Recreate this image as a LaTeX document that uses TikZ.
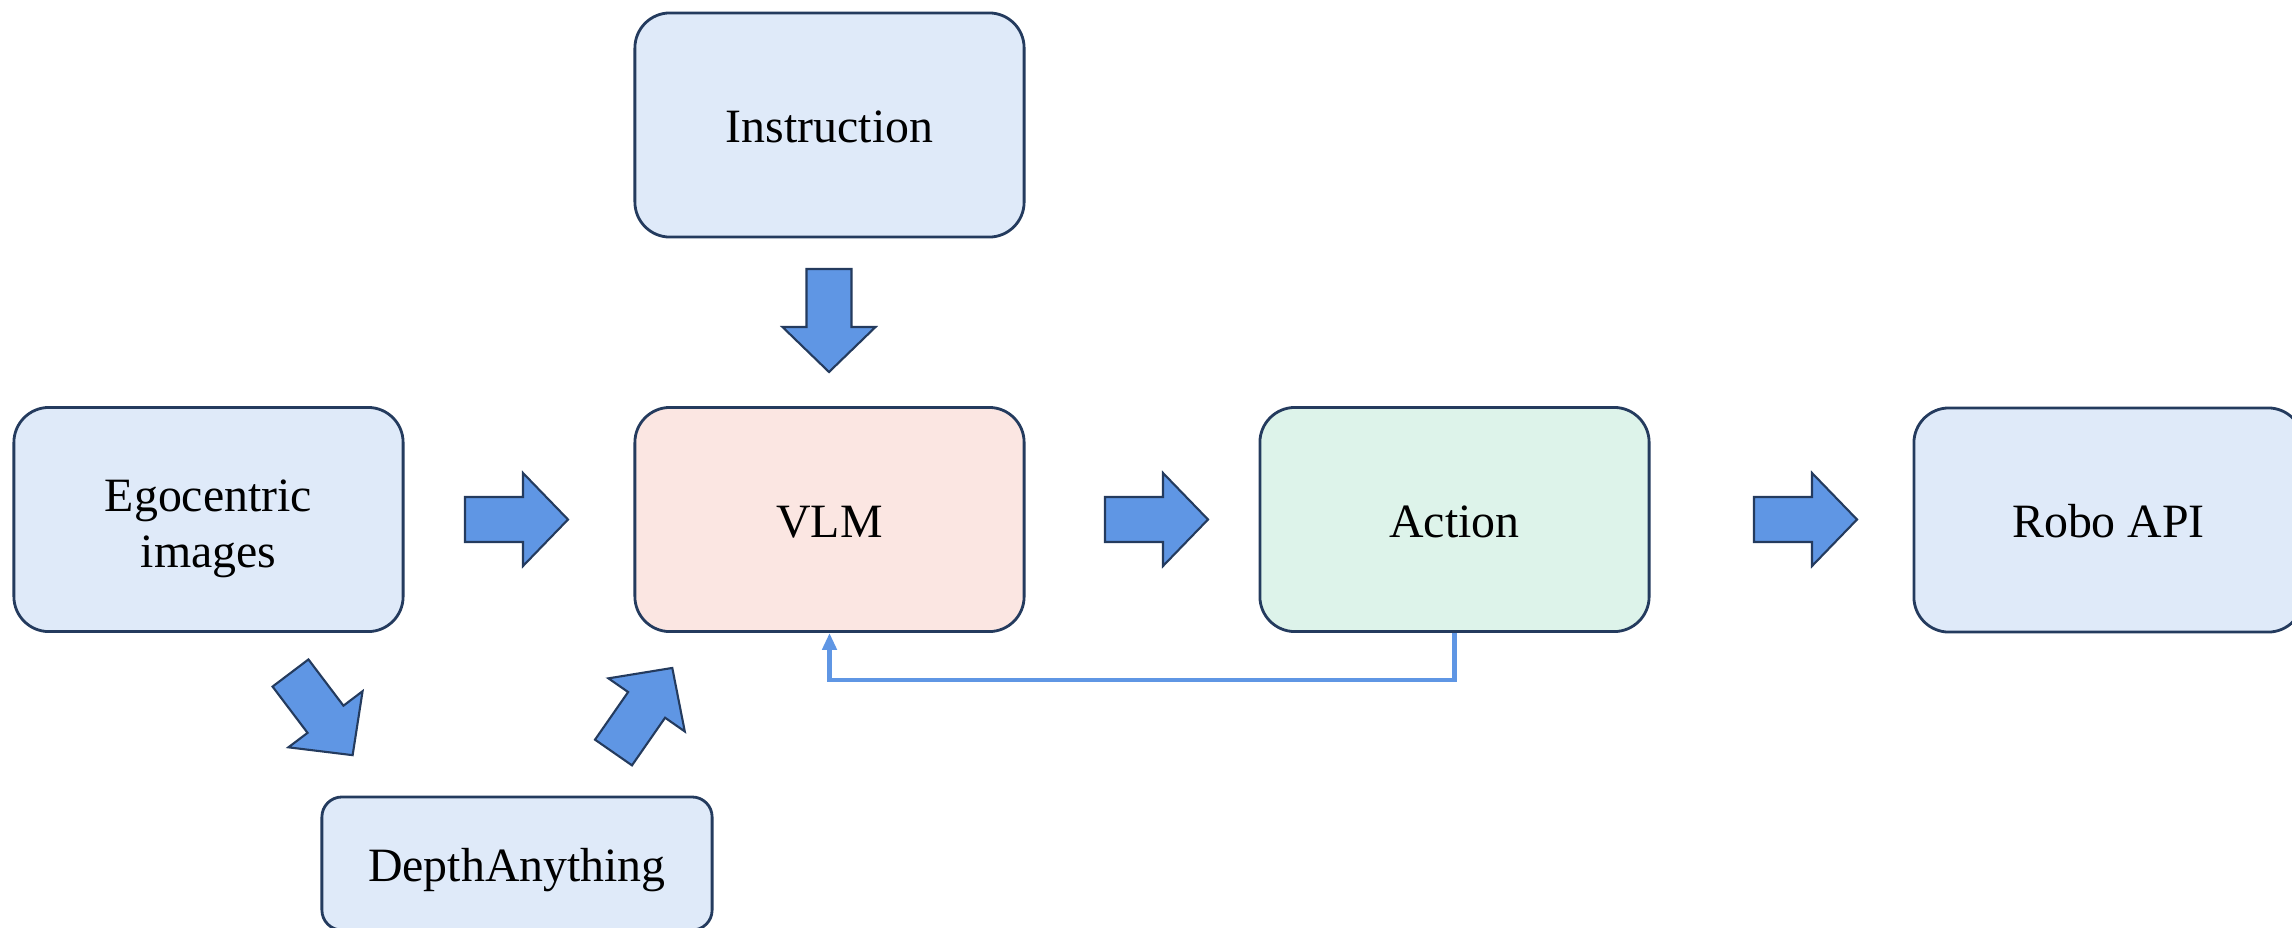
\documentclass[tikz,border=0pt]{standalone}
\usepackage{fontspec}
\setmainfont{Liberation Serif}
\usetikzlibrary{arrows.meta}
\definecolor{bluefill}{HTML}{DFEAF9}
\definecolor{pinkfill}{HTML}{FBE6E2}
\definecolor{greenfill}{HTML}{DDF3EA}
\definecolor{navy}{HTML}{243B5E}
\definecolor{arrowblue}{HTML}{5F96E4}
\tikzset{
  box/.style={draw=navy, line width=0.8pt, rounded corners=0.35cm, inner sep=0pt,
    minimum width=3.89cm, minimum height=2.24cm, align=center,
    font=\fontsize{13.6}{15.93}\selectfont, text=black},
  oneline/.style={text height=10pt, text depth=0pt},
  smallbox/.style={box, oneline, rounded corners=0.2cm, minimum height=1.33cm, minimum width=3.9cm},
  blockarrow/.pic={
    \draw[fill=arrowblue, draw=navy, line width=0.6pt, line join=miter]
      (0,-22.5) -- (58,-22.5) -- (58,-46.5) -- (103,0) -- (58,46.5) -- (58,22.5) -- (0,22.5) -- cycle;
  },
  feedback/.style={draw=arrowblue, line width=1.4pt, -{Triangle[width=4pt,length=4.8pt]}}
}
\begin{document}
\begin{tikzpicture}[x=0.01cm, y=-0.01cm]
\useasboundingbox (0,0) rectangle (2292,927);
\node[box, oneline, fill=bluefill] (instr) at (829.5,125) {Instruction};
\node[box, fill=bluefill] (ego) at (208.5,519.5) {\rule{0pt}{14.1pt}Egocentric\\images};
\node[box, oneline, fill=pinkfill] (vlm) at (829.5,519.5) {VLM};
\node[box, oneline, fill=greenfill] (act) at (1454.5,519.5) {Action};
\node[box, oneline, fill=bluefill] (robo) at (2108.5,520) {Robo API};
\node[smallbox, fill=bluefill] (depth) at (517,863.5) {DepthAnything};
% block arrows
\pic[rotate=-90] at (829,269) {blockarrow};
\pic at (465,519.5) {blockarrow};
\pic at (1105,519.5) {blockarrow};
\pic at (1754,519.5) {blockarrow};
\pic[rotate=-52.9] at (290.5,673) {blockarrow};
\pic[rotate=55.2] at (613.5,752.5) {blockarrow};
% feedback
\coordinate (fbcorner) at (829.5,680);
\draw[feedback] (act.south) |- (fbcorner) -- (vlm.south);
\end{tikzpicture}
\end{document}
